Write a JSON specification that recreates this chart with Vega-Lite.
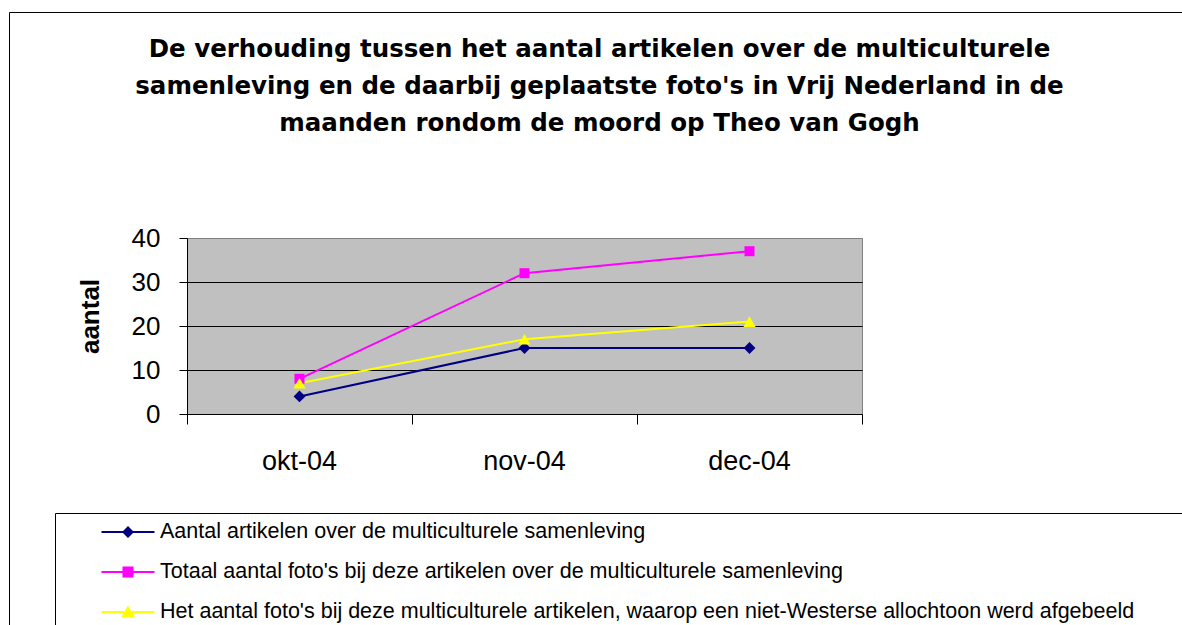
{
  "$schema": "https://vega.github.io/schema/vega-lite/v6.json",
  "width": 675,
  "height": 176,
  "autosize": {"type": "none"},
  "padding": {"left": 187, "top": 238, "right": 320, "bottom": 211},
  "background": "white",
  "view": {"fill": "#C0C0C0", "stroke": "#808080", "strokeWidth": 1},
  "title": {
    "text": ["De verhouding tussen het aantal artikelen over de multiculturele", "samenleving en de daarbij geplaatste foto's in Vrij Nederland in de", "maanden rondom de moord op Theo van Gogh"],
    "font": "DejaVu Sans",
    "fontSize": 24.5,
    "fontWeight": "bold",
    "lineHeight": 37,
    "anchor": "middle",
    "frame": "group",
    "dx": 75,
    "dy": 125,
    "offset": 0,
    "color": "black"
  },
  "data": {
    "values": [
      {"month": "okt-04", "series": "Aantal artikelen over de multiculturele samenleving", "value": 4},
      {"month": "nov-04", "series": "Aantal artikelen over de multiculturele samenleving", "value": 15},
      {"month": "dec-04", "series": "Aantal artikelen over de multiculturele samenleving", "value": 15},
      {"month": "okt-04", "series": "Totaal aantal foto's bij deze artikelen over de multiculturele samenleving", "value": 8},
      {"month": "nov-04", "series": "Totaal aantal foto's bij deze artikelen over de multiculturele samenleving", "value": 32},
      {"month": "dec-04", "series": "Totaal aantal foto's bij deze artikelen over de multiculturele samenleving", "value": 37},
      {"month": "okt-04", "series": "Het aantal foto's bij deze multiculturele artikelen, waarop een niet-Westerse allochtoon werd afgebeeld", "value": 7},
      {"month": "nov-04", "series": "Het aantal foto's bij deze multiculturele artikelen, waarop een niet-Westerse allochtoon werd afgebeeld", "value": 17},
      {"month": "dec-04", "series": "Het aantal foto's bij deze multiculturele artikelen, waarop een niet-Westerse allochtoon werd afgebeeld", "value": 21}
    ]
  },
  "encoding": {
    "x": {
      "field": "month",
      "type": "ordinal",
      "sort": ["okt-04", "nov-04", "dec-04"],
      "scale": {"type": "band", "paddingInner": 0, "paddingOuter": 0},
      "axis": {
        "title": null,
        "bandPosition": 1,
        "tickExtra": true,
        "labelAngle": 0,
        "tickSize": 10,
        "labelPadding": 24,
        "labelFont": "Liberation Sans",
        "labelFontSize": 27,
        "labelColor": "black",
        "domainColor": "black",
        "tickColor": "black",
        "grid": false
      }
    },
    "y": {
      "field": "value",
      "type": "quantitative",
      "scale": {"domain": [0, 40], "nice": false},
      "axis": {
        "title": "aantal",
        "titleFont": "Liberation Sans",
        "titleFontSize": 26,
        "titleFontWeight": "bold",
        "titleColor": "black",
        "titleX": -97,
        "titleY": 78,
        "titleAngle": 270,
        "titleAlign": "center",
        "titleBaseline": "middle",
        "values": [0, 10, 20, 30, 40],
        "labelFont": "Liberation Sans",
        "labelFontSize": 26,
        "labelColor": "black",
        "tickSize": 8,
        "tickColor": "black",
        "labelPadding": 19,
        "domainColor": "black",
        "grid": true,
        "gridColor": {"condition": {"test": "datum.value === 40", "value": "#808080"}, "value": "black"},
        "gridOpacity": 1
      }
    },
    "color": {
      "field": "series",
      "type": "nominal",
      "scale": {
        "domain": ["Aantal artikelen over de multiculturele samenleving", "Totaal aantal foto's bij deze artikelen over de multiculturele samenleving", "Het aantal foto's bij deze multiculturele artikelen, waarop een niet-Westerse allochtoon werd afgebeeld"],
        "range": ["#000080", "#FF00FF", "#FFFF00"]
      },
      "legend": {
        "title": " ",
        "titleOrient": "right",
        "titlePadding": 45,
        "titleFontSize": 21,
        "orient": "none",
        "legendX": -132,
        "legendY": 275,
        "direction": "vertical",
        "padding": 7,
        "strokeColor": "black",
        "fillColor": "white",
        "symbolSize": 576,
        "symbolOffset": 54,
        "labelOffset": 20,
        "rowPadding": 17,
        "labelFont": "Liberation Sans",
        "labelFontSize": 21.5,
        "labelColor": "black",
        "labelLimit": 2000,
        "symbolStrokeWidth": 0,
        "encode": {
          "symbols": {
            "update": {
              "shape": {"signal": "indexof(datum.value, 'Aantal') === 0 ? 'M-2.21,-0.083L2.21,-0.083L2.21,0.083L-2.21,0.083Z M0,-0.5L0.5,0L0,0.5L-0.5,0Z' : (indexof(datum.value, 'Totaal') === 0 ? 'M-2.21,-0.083L2.21,-0.083L2.21,0.083L-2.21,0.083Z M-0.46,-0.46L0.46,-0.46L0.46,0.46L-0.46,0.46Z' : 'M-2.21,-0.083L2.21,-0.083L2.21,0.083L-2.21,0.083Z M0,-0.55L0.58,0.45L-0.58,0.45Z')"},
              "fill": {"signal": "scale('color', datum.value)"},
              "stroke": {"value": "transparent"},
              "opacity": {"value": 1}
            }
          }
        }
      }
    }
  },
  "layer": [
    {"mark": {"type": "line", "strokeWidth": 2}},
    {
      "transform": [{"filter": "indexof(datum.series, 'Aantal') === 0"}],
      "mark": {"type": "point", "shape": "diamond", "filled": true, "size": 140, "opacity": 1}
    },
    {
      "transform": [{"filter": "indexof(datum.series, 'Totaal') === 0"}],
      "mark": {"type": "point", "shape": "square", "filled": true, "size": 100, "opacity": 1}
    },
    {
      "transform": [{"filter": "indexof(datum.series, 'Het') === 0"}],
      "mark": {"type": "point", "shape": "triangle-up", "filled": true, "size": 150, "opacity": 1}
    },
    {
      "data": {"values": [{"f": "frame"}]},
      "mark": {"type": "point", "opacity": 0},
      "encoding": {
        "x": null, "y": null, "color": null,
        "shape": {
          "field": "f",
          "type": "nominal",
          "legend": {
            "title": null,
            "orient": "none",
            "legendX": -178,
            "legendY": -226,
            "padding": 320,
            "strokeColor": "black",
            "symbolSize": 360000,
            "symbolOpacity": 0,
            "symbolStrokeWidth": 0,
            "labelExpr": "''"
          }
        }
      }
    }
  ],
  "config": {
    "view": {"stroke": "#808080", "fill": "#C0C0C0", "strokeWidth": 1},
    "font": "Liberation Sans"
  }
}
